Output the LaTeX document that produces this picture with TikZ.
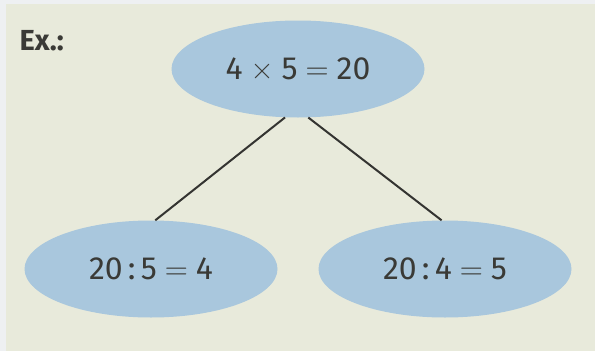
\documentclass[tikz,border=0pt]{standalone}
\usepackage{fontspec}
\setmainfont{Fira Sans}
\newfontfamily\lmsym{Latin Modern Roman}
\usetikzlibrary{shapes.geometric}
\definecolor{panel}{HTML}{E8EADB}
\definecolor{strip}{HTML}{EEF0F2}
\definecolor{blob}{HTML}{A9C7DD}
\definecolor{ink}{HTML}{3A3A36}
\newcommand{\optimes}{\hspace{0.25em}{\lmsym ×}\hspace{0.25em}}
\newcommand{\opeq}{\hspace{0.25em}{\lmsym =}\hspace{0.25em}}
\newcommand{\opdiv}{\hspace{0.16em}:\hspace{0.16em}}
\tikzset{
  blobnode/.style={ellipse, fill=blob, draw=none, inner sep=0pt,
    minimum width=253pt, minimum height=97pt, text=ink,
    font=\fontsize{32}{38}\selectfont},
  link/.style={draw=ink!90!black, line width=2pt}
}
\begin{document}
\begin{tikzpicture}[x=1pt,y=-1pt]
\useasboundingbox (0,0) rectangle (595,351);
\fill[strip] (0,0) rectangle (595,351);
\fill[panel] (6,4) rectangle (595,351);
\node[anchor=west, text=ink, font=\fontseries{sb}\selectfont\fontsize{29}{34}\selectfont] (ex) at (16,41) {Ex.:};
\node[blobnode] (top) at (298,69) {4\optimes5\opeq20};
\node[blobnode] (left) at (151,269) {20\opdiv5\opeq4};
\node[blobnode] (right) at (445,269) {20\opdiv4\opeq5};
\draw[link] (top.255) -- (left.85);
\draw[link] (top.282) -- (right.94);
\end{tikzpicture}
\end{document}
